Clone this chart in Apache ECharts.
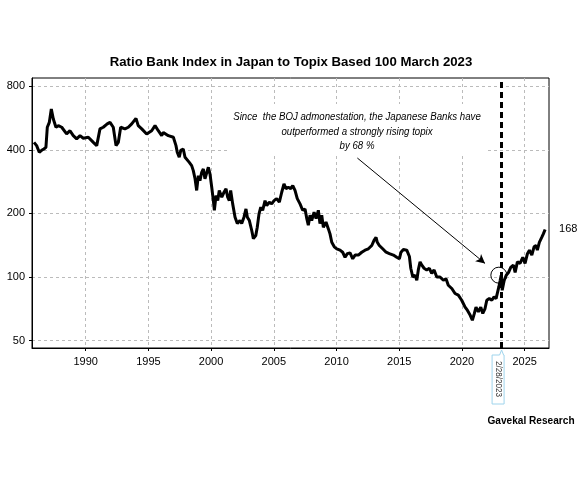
<!DOCTYPE html>
<html>
<head>
<meta charset="utf-8">
<script src="https://cdn.jsdelivr.net/npm/echarts@6/dist/echarts.min.js"></script>
<style>
  html, body { margin: 0; padding: 0; background: #fff; }
  #main { width: 582px; height: 482px; }
</style>
</head>
<body>
<div id="main"></div>
<script type="text/javascript">
    // ratio bank index / topix, based 100 (march 2023)
    var years = [
        1985.88, 1986.09, 1986.30, 1986.49, 1986.67, 1986.83, 1986.94, 1987.10, 1987.26, 1987.42,
        1987.63, 1987.82, 1988.09, 1988.21, 1988.48, 1988.75, 1989.01, 1989.28, 1989.55, 1989.81,
        1990.21, 1990.61, 1990.88, 1991.14, 1991.40, 1991.72, 1991.94, 1992.20, 1992.42, 1992.60,
        1992.79, 1993.13, 1993.40, 1993.67, 1994.01, 1994.19, 1994.47, 1994.86, 1995.26, 1995.53,
        1995.79, 1996.06, 1996.19, 1996.59, 1996.99, 1997.20, 1997.30, 1997.46, 1997.58, 1997.78,
        1997.92, 1998.05, 1998.26, 1998.45, 1998.58, 1998.72, 1998.85, 1998.98, 1999.11, 1999.25,
        1999.38, 1999.51, 1999.65, 1999.78, 1999.91, 2000.05, 2000.18, 2000.26, 2000.39, 2000.53,
        2000.65, 2000.85, 2001.03, 2001.19, 2001.32, 2001.45, 2001.56, 2001.72, 2001.91, 2002.09,
        2002.30, 2002.44, 2002.62, 2002.78, 2002.89, 2003.05, 2003.24, 2003.37, 2003.56, 2003.68,
        2003.82, 2003.96, 2004.11, 2004.30, 2004.43, 2004.64, 2004.83, 2005.02, 2005.23, 2005.44,
        2005.63, 2005.81, 2005.97, 2006.16, 2006.35, 2006.51, 2006.69, 2006.87, 2007.09, 2007.30,
        2007.49, 2007.63, 2007.75, 2007.89, 2008.02, 2008.21, 2008.37, 2008.55, 2008.68, 2008.82,
        2008.95, 2009.16, 2009.35, 2009.48, 2009.62, 2009.82, 2010.02, 2010.28, 2010.49, 2010.68,
        2010.86, 2011.08, 2011.29, 2011.48, 2011.74, 2012.01, 2012.27, 2012.54, 2012.81, 2012.99,
        2013.15, 2013.25, 2013.41, 2013.68, 2013.95, 2014.21, 2014.53, 2014.80, 2015.01, 2015.14,
        2015.33, 2015.60, 2015.81, 2015.92, 2016.08, 2016.26, 2016.40, 2016.52, 2016.66, 2016.79,
        2016.98, 2017.19, 2017.40, 2017.59, 2017.78, 2017.99, 2018.25, 2018.52, 2018.73, 2018.91,
        2019.19, 2019.45, 2019.71, 2019.98, 2020.25, 2020.43, 2020.65, 2020.83, 2020.99, 2021.12,
        2021.31, 2021.50, 2021.66, 2021.84, 2021.98, 2022.18, 2022.38, 2022.56, 2022.72, 2022.86,
        2022.94, 2023.05, 2023.13, 2023.21, 2023.37, 2023.53, 2023.71, 2023.89, 2024.10, 2024.24,
        2024.42, 2024.63, 2024.85, 2025.03, 2025.22, 2025.38, 2025.57, 2025.75, 2025.91, 2026.01,
        2026.17, 2026.36, 2026.49, 2026.63
    ];
    var ratio = [
        434, 419, 390, 398, 404, 411, 512, 540, 625, 560,
        512, 521, 512, 503, 476, 493, 467, 451, 467, 454,
        459, 434, 419, 503, 512, 531, 540, 512, 419, 434,
        512, 503, 512, 531, 564, 521, 503, 476, 493, 521,
        493, 467, 484, 467, 459, 419, 390, 369, 398, 404,
        369, 376, 349, 337, 319, 292, 257, 302, 286, 313,
        325, 292, 297, 331, 308, 266, 230, 207, 243, 230,
        257, 239, 252, 262, 239, 230, 257, 222, 192, 179,
        185, 179, 192, 210, 192, 185, 166, 152, 157, 172,
        199, 214, 207, 230, 218, 226, 222, 230, 235, 226,
        252, 276, 262, 266, 262, 271, 257, 235, 222, 207,
        210, 189, 176, 196, 185, 203, 189, 207, 179, 196,
        172, 182, 169, 160, 146, 139, 136, 134, 131, 124,
        129, 130, 122, 127, 127, 131, 134, 136, 141, 149,
        154, 146, 141, 136, 131, 129, 127, 124, 122, 131,
        135, 134, 125, 110, 100, 102, 96.5, 108, 118, 114,
        110, 108, 110, 104, 108, 100, 100, 96.5, 98, 91.4,
        88.2, 83.5, 82, 77.6, 72, 69.6, 66, 62.4, 67.2, 72,
        68.3, 72, 67.2, 70.9, 77.6, 79, 77.6, 80.5, 79, 80.5,
        89.7, 96.5, 102, 86.5, 96.5, 102, 105, 111, 114, 105,
        118, 116, 124, 116, 129, 134, 127, 139, 141, 134,
        146, 154, 160, 168
    ];
    var yTicks = [50, 100, 200, 400, 800];
    var xTicks = [1990, 1995, 2000, 2005, 2010, 2015, 2020, 2025];
    var bojDate = 2023.16;      // 2/28/2023
    var bojLabel = '2/28/2023';
    var lastValue = 168;
    var arrowFrom = [2011.66, 366];
    var arrowTo = [2021.84, 116];
    var circleAt = [2022.94, 102];

    var seriesData = years.map(function (y, i) { return [y, ratio[i]]; });

    var fontName = 'Liberation Sans, Arial, sans-serif';
    var axisFont = {fontFamily: fontName, fontSize: 11, color: '#000'};

    var myChart = echarts.init(document.getElementById('main'));
    myChart.setOption({
        animation: false,
        backgroundColor: '#fff',
        title: {
            text: 'Ratio Bank Index in Japan to Topix Based 100 March 2023',
            left: 'center',
            top: 51,
            textStyle: {fontFamily: fontName, fontSize: 13.2, fontWeight: 'bold', color: '#000'}
        },
        grid: {
            left: 32, right: 33, top: 78, bottom: 134,
            show: true, borderColor: '#000', borderWidth: 1
        },
        xAxis: {
            type: 'value',
            min: 1985.72,
            max: 2026.94,
            axisLine: {lineStyle: {color: '#000'}},
            axisTick: {show: true, length: 3, customValues: xTicks, lineStyle: {color: '#000'}},
            axisLabel: Object.assign({
                customValues: xTicks,
                margin: 8,
                formatter: function (v) { return String(v); }
            }, axisFont),
            splitLine: {show: true, lineStyle: {color: '#bbb', type: [3, 3], width: 1}}
        },
        yAxis: {
            type: 'log',
            logBase: 2,
            min: 46.1,
            max: 876,
            axisLine: {show: true, lineStyle: {color: '#000'}},
            axisTick: {show: true, length: 3, customValues: yTicks, lineStyle: {color: '#000'}},
            axisLabel: Object.assign({customValues: yTicks, margin: 7}, axisFont),
            splitLine: {show: true, lineStyle: {color: '#bbb', type: [3, 3], width: 1}}
        },
        series: [{
            type: 'line',
            data: seriesData,
            showSymbol: false,
            lineStyle: {color: '#000', width: 3},
            endLabel: {
                show: true,
                distance: 14,
                formatter: String(lastValue),
                fontFamily: fontName,
                fontSize: 11,
                color: '#000'
            },
            markLine: {
                silent: true,
                symbol: ['none', 'none'],
                label: {show: false},
                data: [
                    {xAxis: bojDate, lineStyle: {color: '#000', width: 3, type: [6, 4]}},
                    [
                        {coord: arrowFrom, symbol: 'none', lineStyle: {color: '#000', width: 1, type: 'solid'}},
                        {coord: arrowTo, symbol: 'arrow', symbolSize: [7, 9]}
                    ]
                ]
            },
            markPoint: {
                silent: true,
                symbol: 'circle',
                symbolSize: 16,
                label: {show: false},
                itemStyle: {color: 'rgba(0,0,0,0)', borderColor: '#000', borderWidth: 1},
                data: [{coord: circleAt}]
            }
        }]
    });

    // annotation, date flag and source, placed from the axis coords
    var flagPt = myChart.convertToPixel({gridIndex: 0}, [bojDate, 46.1]);
    var fx = flagPt[0], fy = flagPt[1];
    myChart.setOption({
        graphic: [
            {
                type: 'rect',
                shape: {x: 228, y: 104, width: 259, height: 51},
                style: {fill: '#fff'},
                z: 10
            },
            {
                type: 'text',
                x: 357, y: 110,
                scaleX: 0.88,
                z: 11,
                style: {
                    text: 'Since  the BOJ admonestation, the Japanese Banks have\noutperformed a strongly rising topix\nby 68 %',
                    align: 'center',
                    verticalAlign: 'top',
                    lineHeight: 14.4,
                    fontFamily: fontName,
                    fontStyle: 'italic',
                    fontSize: 11,
                    fill: '#000'
                }
            },
            {
                type: 'polygon',
                z: 10,
                shape: {points: [[fx - 9.5, fy + 7], [fx - 2, fy + 7], [fx, fy + 2], [fx + 2, fy + 7], [fx + 2.5, fy + 7], [fx + 2.5, fy + 56], [fx - 9.5, fy + 56]]},
                style: {fill: '#fff', stroke: '#9fd4ec', lineWidth: 1}
            },
            {
                type: 'text',
                x: fx - 3.5, y: fy + 31,
                rotation: -Math.PI / 2,
                scaleX: 0.9,
                z: 11,
                style: {
                    text: bojLabel,
                    align: 'center',
                    verticalAlign: 'middle',
                    fontFamily: fontName,
                    fontSize: 9,
                    fill: '#333'
                }
            },
            {
                type: 'text',
                x: 531, y: 421,
                scaleX: 0.92,
                style: {
                    text: 'Gavekal Research',
                    align: 'center',
                    verticalAlign: 'middle',
                    fontFamily: fontName,
                    fontWeight: 'bold',
                    fontSize: 11,
                    fill: '#000'
                }
            }
        ]
    });
</script>
</body>
</html>
